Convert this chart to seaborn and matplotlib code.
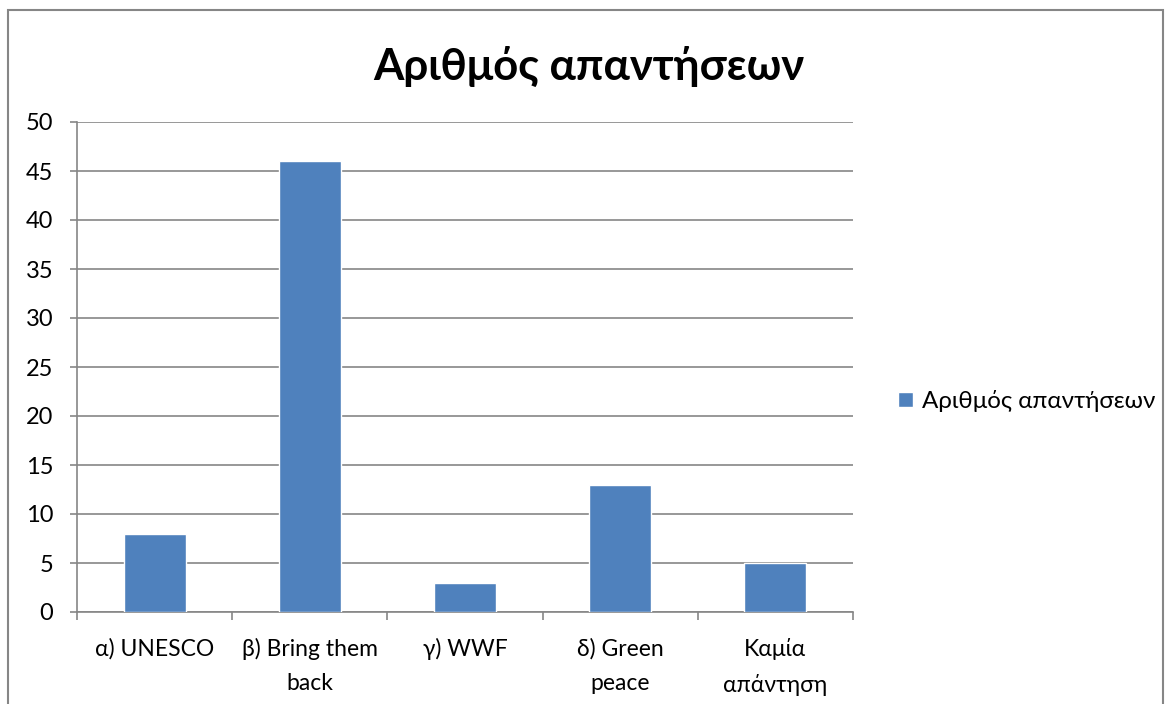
import matplotlib
matplotlib.use("Agg")
import matplotlib.pyplot as plt
import seaborn as sns
import pandas as pd
from matplotlib.patches import Rectangle

categories = ["α) UNESCO", "β) Bring them\nback", "γ) WWF", "δ) Green\npeace", "Καμία\nαπάντηση"]
answers = [8, 46, 3, 13, 5]
series_name = "Αριθμός απαντήσεων"
yticks = [0, 5, 10, 15, 20, 25, 30, 35, 40, 45, 50]

sns.set_style("white")
plt.rcParams["font.family"] = ["Lato", "DejaVu Sans"]
plt.rcParams["text.color"] = "black"
plt.rcParams["xtick.color"] = "black"
plt.rcParams["ytick.color"] = "black"

df = pd.DataFrame({"category": categories, "value": answers})
grey = "#868686"

fig = plt.figure(figsize=(11.66, 7.04), dpi=100)
ax = fig.add_axes([77 / 1166, 92 / 704, 776 / 1166, 490 / 704])

sns.barplot(data=df, x="category", y="value", color="#4F81BD", width=0.4,
            saturation=1, label=series_name, ax=ax, zorder=3)

ax.set_ylim(0, 50)
ax.set_xlim(-0.5, len(categories) - 0.5)
ax.set_yticks(yticks)
ax.yaxis.grid(True, color=grey, linewidth=1.2, zorder=0)
ax.set_axisbelow(True)
ax.set_xlabel("")
ax.set_ylabel("")

for s in ["top", "right"]:
    ax.spines[s].set_visible(False)
for s in ["left", "bottom"]:
    ax.spines[s].set_color(grey)
    ax.spines[s].set_linewidth(1.2)

ax.tick_params(axis="y", length=5, width=1.2, color=grey, labelcolor="black",
               labelsize=17, pad=12, left=True)
ax.tick_params(axis="x", which="major", length=0, labelsize=16.5, labelcolor="black", pad=19)
for lbl in ax.get_xticklabels():
    lbl.set_linespacing(1.75)
ax.set_xticks([i - 0.5 for i in range(len(categories) + 1)], minor=True)
ax.tick_params(axis="x", which="minor", length=6, width=1.2, color=grey, bottom=True)

ax.set_title("Αριθμός απαντήσεων", fontsize=31.5, fontweight="bold", color="black",
             x=0.66, pad=30)

leg = ax.legend(loc="center left", bbox_to_anchor=(1.03, 0.43), frameon=False,
                fontsize=17.4, handlelength=0.6, handleheight=0.6, handletextpad=0.4)

fig.patches.append(Rectangle((8 / 1166, -0.02), 1155 / 1166, 1 - 10 / 704 + 0.02,
                             transform=fig.transFigure, fill=False,
                             edgecolor=grey, linewidth=1.5))

fig.savefig("out.png", dpi=100)
